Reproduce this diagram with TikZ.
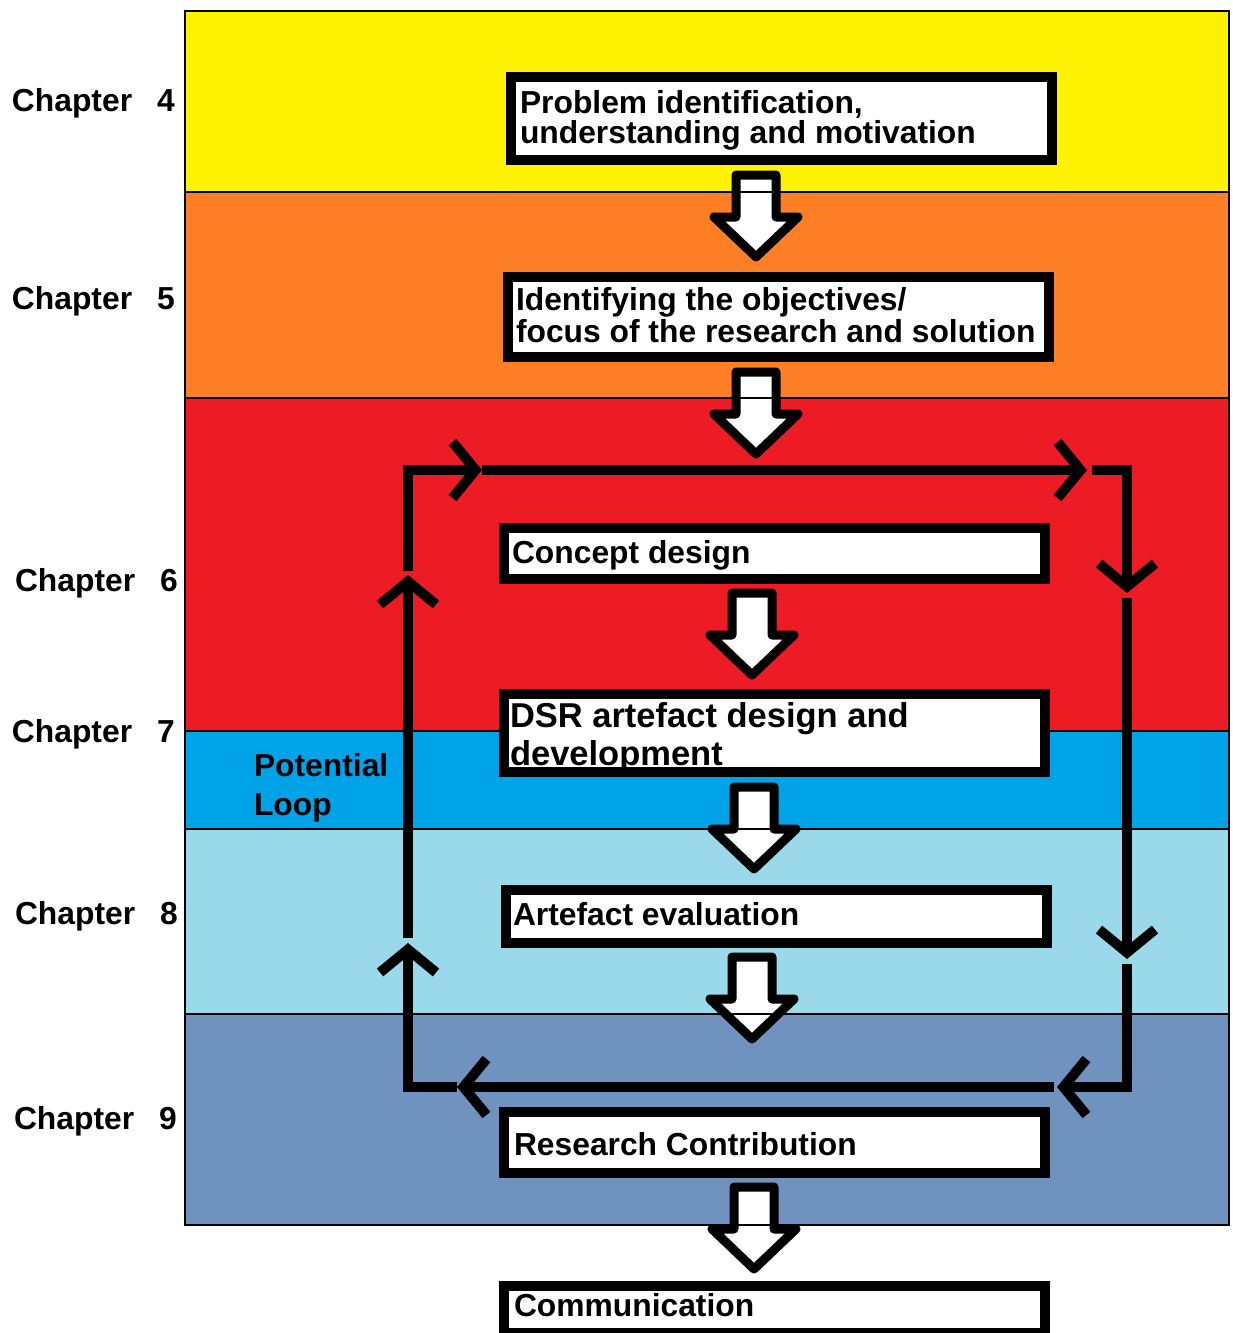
\documentclass[tikz,border=0pt]{standalone}
\usepackage{fontspec}
\setmainfont{Liberation Sans}
\usetikzlibrary{arrows.meta}
\definecolor{bandyellow}{HTML}{FFF200}
\definecolor{bandorange}{HTML}{FF7F27}
\definecolor{bandred}{HTML}{ED1C24}
\definecolor{bandblue}{HTML}{00A2E8}
\definecolor{bandlight}{HTML}{99D9EA}
\definecolor{bandsteel}{HTML}{7092BE}
\begin{document}
\begin{tikzpicture}[x=1pt,y=-1pt,
  every node/.style={inner sep=0pt, outer sep=0pt},
  lbl/.style={font=\fontsize{31.8}{#1}\selectfont\bfseries, align=left, anchor=base west},
  lbl/.default=31,
  biglbl/.style={font=\fontsize{34.5}{#1}\selectfont\bfseries, align=left, anchor=base west},
  box/.style={draw=black, fill=white, line width=10pt, minimum width=541pt},
  bandedge/.style={draw=black, line width=1.6pt},
  loopline/.style={line width=10pt, line join=miter, line cap=butt,
    -{Straight Barb[length=23pt,width=56pt]}},
  blockline/.style={draw=black, fill=white, line width=9pt, line join=round},
  pics/blockdown/.style={code={
    \path[blockline] (-20,0) -- (20,0) -- (20,42) -- (42,42) -- (0,82)
      -- (-42,42) -- (-20,42) -- cycle;}}
]
\useasboundingbox (0,0) rectangle (1232,1333);

% coloured chapter bands
\fill[bandyellow] (185,11)   rectangle (1229,192);
\fill[bandorange] (185,192)  rectangle (1229,398);
\fill[bandred]    (185,398)  rectangle (1229,731);
\fill[bandblue]   (185,731)  rectangle (1229,829);
\fill[bandlight]  (185,829)  rectangle (1229,1014);
\fill[bandsteel]  (185,1014) rectangle (1229,1225);

% block arrows between the stages
\pic at (756,175)  {blockdown};
\pic at (756,372)  {blockdown};
\pic at (752,593)  {blockdown};
\pic at (754,787)  {blockdown};
\pic at (752,957)  {blockdown};
\pic at (754,1187) {blockdown};

% band outlines
\draw[bandedge] (185,11) rectangle (1229,1225);
\foreach \yy in {192,398,731,829,1014}
  \draw[bandedge] (185,\yy) -- (1229,\yy);

% loop route
\coordinate (L0)  at (408,1087);
\coordinate (L1)  at (408,943);
\coordinate (L1s) at (408,938);
\coordinate (L2)  at (408,575);
\coordinate (L2s) at (408,571);
\coordinate (T0)  at (408,470);
\coordinate (T1)  at (482,470);
\coordinate (T2)  at (1087,470);
\coordinate (T2s) at (1092,470);
\coordinate (R0)  at (1127,470);
\coordinate (R1)  at (1127,593);
\coordinate (R1s) at (1127,598);
\coordinate (R2)  at (1127,959);
\coordinate (R2s) at (1127,964);
\coordinate (R3)  at (1127,1087);
\coordinate (B1)  at (1057,1087);
\coordinate (B1s) at (1054,1087);
\coordinate (B2)  at (457,1087);

\draw[loopline] (R2s) -- (R3) -- (B1);
\draw[loopline] (B1s) -- (B2);
\draw[loopline] (B2) -- (L0) -- (L1);
\draw[loopline] (L1s) -- (L2);
\draw[loopline] (L2s) -- (T0) -- (T1);
\draw[loopline] (T1) -- (T2);
\draw[loopline] (T2s) -- (R0) -- (R1);
\draw[loopline] (R1s) -- (R2);

% stage boxes
\node[box, minimum height=83pt] (b1) at (781,118.5)  {};
\node[box, minimum height=80pt] (b2) at (778.5,317)  {};
\node[box, minimum height=51pt] (b3) at (774.5,553.5) {};
\node[box, minimum height=78pt] (b4) at (774.5,733)  {};
\node[box, minimum height=53pt] (b5) at (776.5,916.5) {};
\node[box, minimum height=61pt] (b6) at (774.5,1142.5) {};
\node[box, minimum height=47pt] (b7) at (774.5,1309.5) {};

% stage texts (base anchor of a two-line node sits on its last line)
\node[lbl=30] (t1) at (520,143) {Problem identification,\\understanding and motivation};
\node[lbl=32] (t2) at (516,342) {Identifying the objectives/\\focus of the research and solution};
\node[lbl]    (t3) at (512,563) {Concept design};
\node[biglbl=38] (t4) at (510,765) {DSR artefact design and\\development};
\node[lbl]    (t5) at (513,925) {Artefact evaluation};
\node[lbl]    (t6) at (514,1155) {Research Contribution};
\node[lbl]    (t7) at (514,1316) {Communication};
\draw[line width=10pt] (b4.south west) -- (b4.south east);

% chapter labels
\node[lbl] (c4) at (12,111)  {Chapter\hspace{25pt}4};
\node[lbl] (c5) at (12,309)  {Chapter\hspace{25pt}5};
\node[lbl] (c6) at (15,591)  {Chapter\hspace{25pt}6};
\node[lbl] (c7) at (12,742)  {Chapter\hspace{25pt}7};
\node[lbl] (c8) at (15,924)  {Chapter\hspace{25pt}8};
\node[lbl] (c9) at (14,1129) {Chapter\hspace{25pt}9};

\node[lbl=39] (pl) at (254,815) {Potential\\Loop};
\end{tikzpicture}
\end{document}
